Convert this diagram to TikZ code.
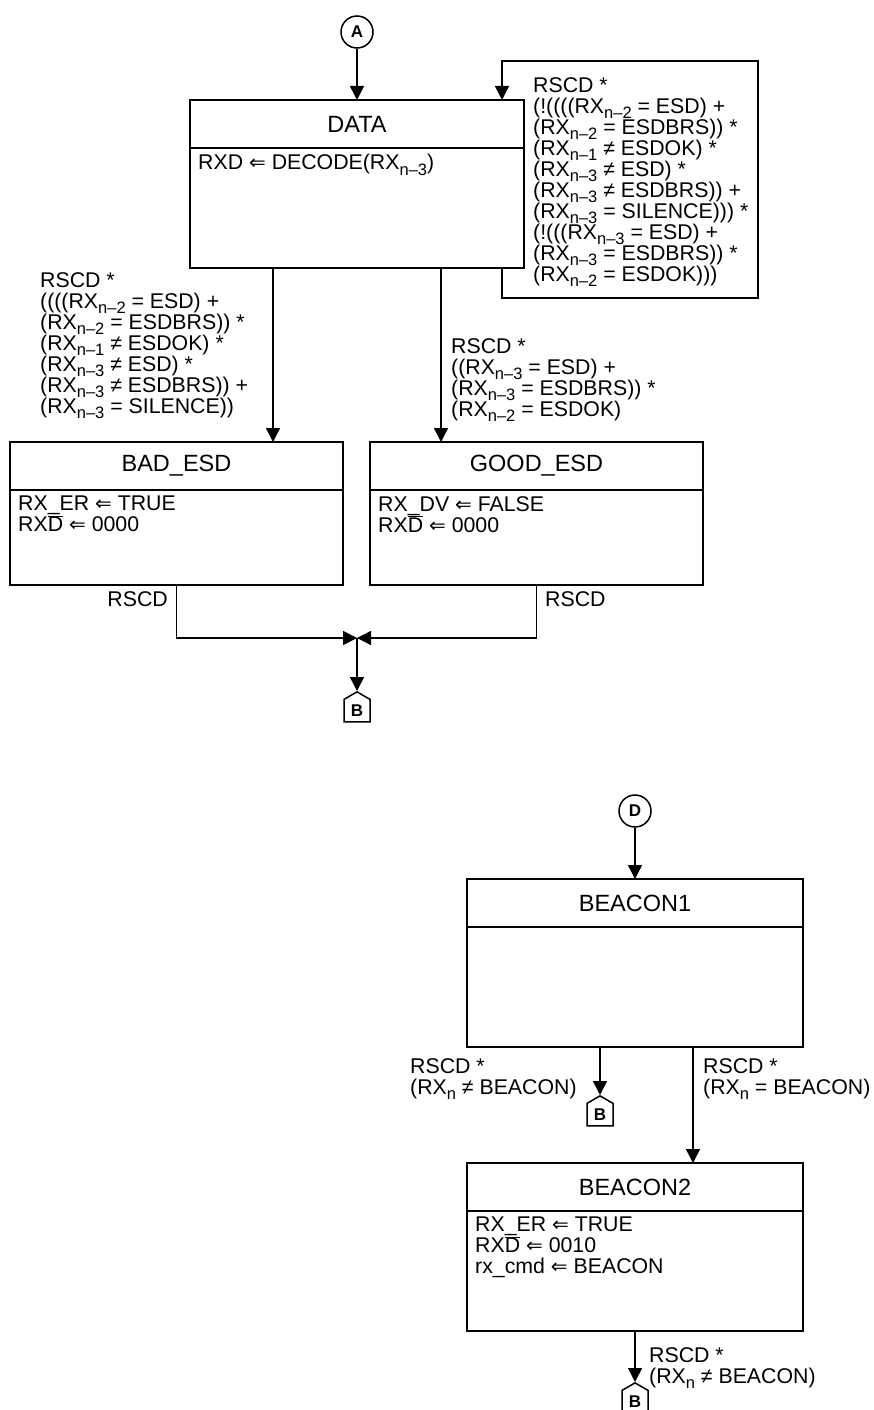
\documentclass[tikz,border=0pt]{standalone}
\usepackage{fontspec}
\setmainfont{Liberation Sans}
\newfontfamily\dejavu{DejaVu Sans}
\usetikzlibrary{arrows.meta,positioning,shapes.symbols}

\newcommand{\sbs}[1]{\raisebox{-5.5pt}[0pt][0pt]{\fontsize{16.5}{16}\selectfont #1}}
\newcommand{\getsarrow}{{\dejavu\fontsize{20}{20}\selectfont ⇐}}
\newcommand{\ovbar}[1]{\setbox0\hbox{#1}\rlap{\rule[\dimexpr\ht0+0.6pt\relax]{\wd0}{1pt}}\box0\relax}
\lineskiplimit=-100pt

\begin{document}
\begin{tikzpicture}[
    x=1pt, y=1pt,
    font=\fontsize{21.3}{21}\selectfont,
    head/.style={draw, line width=2.2pt, minimum height=48, inner sep=0pt, outer sep=0pt, font=\fontsize{23.5}{24}\selectfont},
    body/.style={draw, line width=2.2pt, minimum height=#1, inner sep=0pt, outer sep=0pt},
    acts/.style={anchor=north west, align=left, inner sep=0pt},
    cond/.style={align=left, inner sep=0pt},
    conn/.style={circle, draw, line width=1.5pt, minimum size=32, inner sep=0pt, font=\fontsize{17}{17}\selectfont\bfseries},
    offpage/.style={signal, signal to=north, signal pointer angle=120, draw, line width=1.5pt, minimum width=26, minimum height=26, inner sep=0pt, font=\fontsize{17}{17}\selectfont\bfseries},
    flow/.style={-{Triangle[length=14pt,width=14pt]}, line width=1.5pt},
]
\useasboundingbox (0,0) rectangle (873,-1410);

% entry A and DATA state
\node[conn] (A) at (357,-32) {A};
\node[head, minimum width=334] (data) at (357,-124) {DATA};
\node[body=120, minimum width=334, below=0pt of data] (datab) {};
\node[acts] (datax) at ([xshift=8,yshift=-6]datab.north west) {RXD \getsarrow{} DECODE(RX\sbs{n–3})};

% BAD_ESD and GOOD_ESD
\node[head, minimum width=333] (bad) at (176.5,-466) {BAD\_ESD};
\node[body=95, minimum width=333, below=0pt of bad] (badb) {};
\node[acts] (badx) at ([xshift=8,yshift=-6]badb.north west) {RX\_ER \getsarrow{} TRUE\\RX\ovbar{D} \getsarrow{} 0000};
\node[head, minimum width=333] (good) at (536.5,-466) {GOOD\_ESD};
\node[body=95, minimum width=333, below=0pt of good] (goodb) {};
\node[acts] (goodx) at ([xshift=8,yshift=-6]goodb.north west) {RX\_DV \getsarrow{} FALSE\\RX\ovbar{D} \getsarrow{} 0000};
\node[offpage, anchor=north] (B1) at (357,-691) {B};

% entry D, BEACON1 and BEACON2
\node[conn] (D) at (635,-811) {D};
\node[head, minimum width=336] (beacon1) at (635,-903) {BEACON1};
\node[body=120, minimum width=336, below=0pt of beacon1] (beacon1b) {};
\node[offpage, anchor=north] (B2) at (600,-1095) {B};
\node[head, minimum width=336] (beacon2) at (635,-1187) {BEACON2};
\node[body=120, minimum width=336, below=0pt of beacon2] (beacon2b) {};
\node[acts] (beacon2x) at ([xshift=8,yshift=-6]beacon2b.north west) {RX\_ER \getsarrow{} TRUE\\RX\ovbar{D} \getsarrow{} 0010\\rx\_cmd \getsarrow{} BEACON};
\node[offpage, anchor=north] (B3) at (635,-1382) {B};

% transition conditions
\node[cond, anchor=north west] (loopc) at (533,-77) {RSCD *\\(!((((RX\sbs{n–2} = ESD) +\\(RX\sbs{n–2} = ESDBRS)) *\\(RX\sbs{n–1} ≠ ESDOK) *\\(RX\sbs{n–3} ≠ ESD) *\\(RX\sbs{n–3} ≠ ESDBRS)) +\\(RX\sbs{n–3} = SILENCE))) *\\(!(((RX\sbs{n–3} = ESD) +\\(RX\sbs{n–3} = ESDBRS)) *\\(RX\sbs{n–2} = ESDOK)))};
\node[cond, anchor=north west] (badc) at (40,-272) {RSCD *\\((((RX\sbs{n–2} = ESD) +\\(RX\sbs{n–2} = ESDBRS)) *\\(RX\sbs{n–1} ≠ ESDOK) *\\(RX\sbs{n–3} ≠ ESD) *\\(RX\sbs{n–3} ≠ ESDBRS)) +\\(RX\sbs{n–3} = SILENCE))};
\node[cond, anchor=north west] (goodc) at (451,-338) {RSCD *\\((RX\sbs{n–3} = ESD) +\\(RX\sbs{n–3} = ESDBRS)) *\\(RX\sbs{n–2} = ESDOK)};
\node[cond, anchor=base east] (badr) at (168,-606) {RSCD};
\node[cond, anchor=base west] (goodr) at (545,-606) {RSCD};
\node[cond, anchor=north west] (b1nc) at (410,-1058) {RSCD *\\(RX\sbs{n} ≠ BEACON)};
\node[cond, anchor=north west] (b1c) at (703,-1058) {RSCD *\\(RX\sbs{n} = BEACON)};
\node[cond, anchor=north west] (b2nc) at (649,-1347) {RSCD *\\(RX\sbs{n} ≠ BEACON)};

% connectors
\coordinate (loopne) at (758,-61);
\coordinate (join) at (357,-638);
\draw[flow] (A) -- (data);
\draw[flow] ([xshift=145]datab.south) -- ++(0,-30) -| (loopne) -| ([xshift=145]data.north);
\draw[flow] ([xshift=-84]datab.south) coordinate (dl) -- (dl |- bad.north);
\draw[flow] ([xshift=84]datab.south) coordinate (dr) -- (dr |- good.north);
\draw[flow] (badb.south) |- (join);
\draw[flow] (goodb.south) |- (join);
\draw[flow] (join) -- (B1.north);
\draw[flow] (D) -- (beacon1);
\draw[flow] ([xshift=-35]beacon1b.south) -- (B2.north);
\draw[flow] ([xshift=58]beacon1b.south) coordinate (br) -- (br |- beacon2.north);
\draw[flow] (beacon2b.south) -- (B3.north);
\end{tikzpicture}
\end{document}
